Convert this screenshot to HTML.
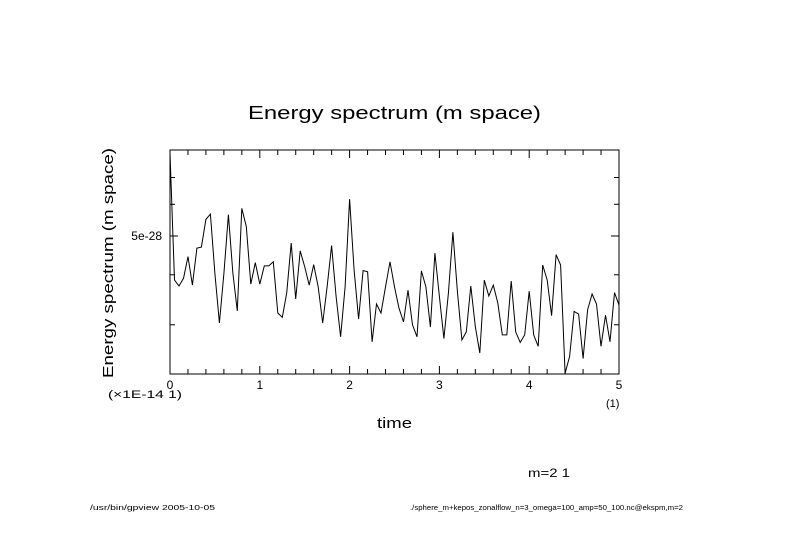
<!DOCTYPE html>
<html><head><meta charset="utf-8"><style>
html,body{margin:0;padding:0;background:#fff;}
svg{display:block;font-family:"Liberation Sans",sans-serif;}
</style></head><body>
<svg id="chart" width="789" height="558" viewBox="0 0 789 558">
<text x="248" y="119" font-size="18" textLength="293" lengthAdjust="spacingAndGlyphs">Energy spectrum (m space)</text>
<text transform="translate(113,378) rotate(-90)" font-size="15" textLength="230" lengthAdjust="spacingAndGlyphs">Energy spectrum (m space)</text>
<text x="377" y="428" font-size="15" textLength="35" lengthAdjust="spacingAndGlyphs">time</text>
<text x="108" y="398" font-size="11" textLength="74" lengthAdjust="spacingAndGlyphs">(×1E-14 1)</text>
<text x="606" y="407" font-size="11">(1)</text>
<text x="528" y="477" font-size="12" textLength="42" lengthAdjust="spacingAndGlyphs">m=2 1</text>
<text x="90" y="510" font-size="7" textLength="125" lengthAdjust="spacingAndGlyphs">/usr/bin/gpview  2005-10-05</text>
<text x="410" y="510" font-size="7" textLength="273" lengthAdjust="spacingAndGlyphs">./sphere_m+kepos_zonalflow_n=3_omega=100_amp=50_100.nc@ekspm,m=2</text>
<g id="axes"></g>
<g id="series"></g>
</svg>
<script>
const xTickValues = [0,1,2,3,4,5];
const xTickLabels = ["0","1","2","3","4","5"];
const yTickValues = [3,4,5,6,7];
const yTickLabels = ["","","5e-28","",""];
const tStart = 0, tStep = 0.05;
const energyValues = [8.05,3.88,3.75,3.92,4.44,3.77,4.66,4.69,5.5,5.67,4.03,3.03,4.03,5.65,4.03,3.25,5.86,5.28,3.79,4.29,3.79,4.21,4.21,4.31,3.21,3.13,3.6,4.8,3.48,4.59,4.19,3.77,4.24,3.73,3.03,3.73,4.73,3.53,2.8,3.73,6.18,4.11,3.1,4.1,4.07,2.72,3.38,3.21,3.73,4.31,
3.73,3.3,3.05,3.66,3.0,2.8,4.09,3.73,2.96,4.53,3.53,2.77,3.6,5.11,3.63,2.75,2.88,3.75,2.97,2.55,3.88,3.54,3.77,3.4,2.83,2.83,3.86,2.88,2.71,2.83,3.64,2.83,2.65,4.23,3.88,3.16,4.49,4.23,2.27,2.5,3.24,3.19,2.47,3.27,3.58,3.38,2.65,3.17,2.72,3.61,3.36];

const L=170,R=619,T=150,B=374;
const xMin=0,xMax=5,yMin=2.26,yMax=8.2;
const NS="http://www.w3.org/2000/svg";
function X(v){return L+(v-xMin)/(xMax-xMin)*(R-L);}
function Y(v){return B-(Math.log10(v)-Math.log10(yMin))/(Math.log10(yMax)-Math.log10(yMin))*(B-T);}
function mk(tag,attrs,parent){const e=document.createElementNS(NS,tag);for(const k in attrs)e.setAttribute(k,attrs[k]);parent.appendChild(e);return e;}
const ax=document.getElementById('axes');
const frame=mk('rect',{x:L,y:T,width:R-L,height:B-T,fill:'none',stroke:'#000','stroke-width':1},ax);


for(let i=0;i<=25;i++){
  const v=i*0.2, x=X(v), major=(i%5===0), len=major?8:5;
  const t1=mk('line',{x1:x,y1:B,x2:x,y2:B-len,stroke:'#000'},ax);
  
  
  const t2=mk('line',{x1:x,y1:T,x2:x,y2:T+len,stroke:'#000'},ax);
  
  
}
xTickValues.forEach((v,i)=>{
  const t=mk('text',{x:X(v),y:B+15,'font-size':12,'text-anchor':'middle'},ax);
  t.textContent=xTickLabels[i];
  
  
});
yTickValues.forEach((v,i)=>{
  const y=Y(v), len=yTickLabels[i]?8:5;
  const a=mk('line',{x1:L,y1:y,x2:L+len,y2:y,stroke:'#000'},ax);
  
  
  const b=mk('line',{x1:R,y1:y,x2:R-len,y2:y,stroke:'#000'},ax);
  
  
  if(yTickLabels[i]){
    const t=mk('text',{x:L-8,y:y+4,'font-size':12,'text-anchor':'end'},ax);
    t.textContent=yTickLabels[i];
    
    
  }
});
const pts=energyValues.map((v,i)=>X(tStart+i*tStep).toFixed(1)+','+Y(v).toFixed(1)).join(' ');
const line=mk('polyline',{points:pts,fill:'none',stroke:'#000','stroke-width':1},document.getElementById('series'));


</script>
</body></html>
